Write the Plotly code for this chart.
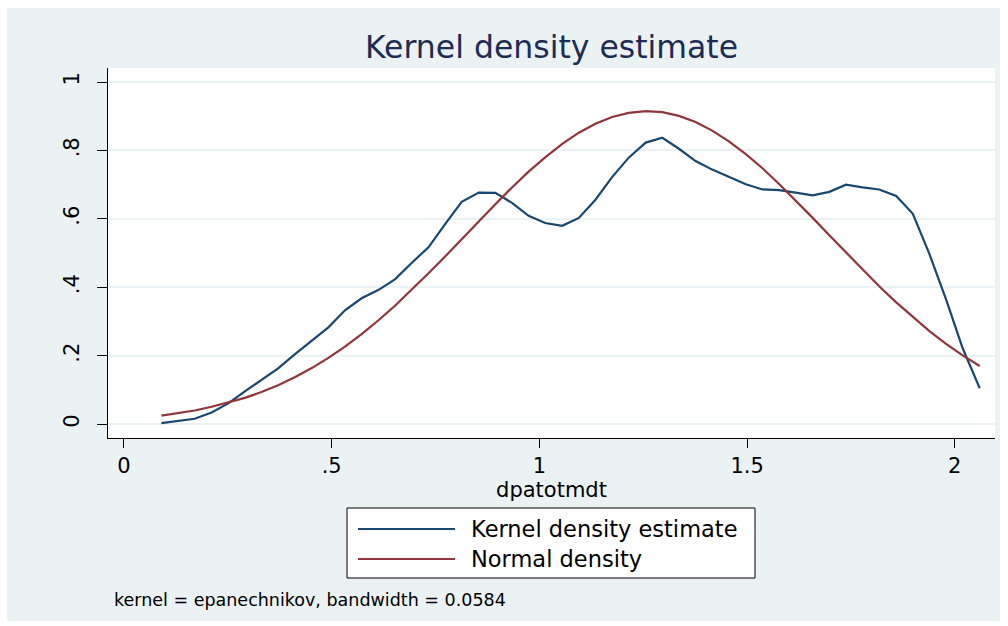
import plotly.graph_objects as go

# Evaluation grid (50 points) for the density of dpatotmdt
grid_x = [0.090, 0.130, 0.170, 0.211, 0.251, 0.291, 0.331, 0.371, 0.411, 0.452,
          0.492, 0.532, 0.572, 0.612, 0.653, 0.693, 0.733, 0.773, 0.813, 0.854,
          0.894, 0.934, 0.974, 1.014, 1.055, 1.095, 1.135, 1.175, 1.215, 1.256,
          1.296, 1.336, 1.376, 1.416, 1.457, 1.497, 1.537, 1.577, 1.617, 1.658,
          1.698, 1.738, 1.778, 1.818, 1.859, 1.899, 1.939, 1.979, 2.019, 2.060]

kernel_density = [0.003, 0.009, 0.016, 0.034, 0.061, 0.096, 0.130, 0.163, 0.204, 0.245,
                  0.283, 0.333, 0.368, 0.392, 0.424, 0.472, 0.517, 0.585, 0.650, 0.677,
                  0.676, 0.647, 0.609, 0.588, 0.580, 0.603, 0.656, 0.722, 0.779, 0.823,
                  0.837, 0.805, 0.769, 0.744, 0.723, 0.701, 0.686, 0.684, 0.677, 0.669,
                  0.679, 0.700, 0.692, 0.686, 0.667, 0.615, 0.497, 0.365, 0.222, 0.105]

normal_density = [0.025, 0.032, 0.040, 0.051, 0.063, 0.077, 0.094, 0.114, 0.137, 0.164,
                  0.194, 0.227, 0.263, 0.303, 0.347, 0.393, 0.441, 0.490, 0.541, 0.593,
                  0.643, 0.692, 0.738, 0.780, 0.819, 0.852, 0.878, 0.898, 0.910, 0.915,
                  0.912, 0.901, 0.883, 0.858, 0.826, 0.789, 0.748, 0.702, 0.654, 0.603,
                  0.552, 0.502, 0.452, 0.403, 0.356, 0.313, 0.272, 0.235, 0.201, 0.170]

x_ticks = [0, 0.5, 1, 1.5, 2]
x_tick_labels = ["0", ".5", "1", "1.5", "2"]
y_ticks = [0, 0.2, 0.4, 0.6, 0.8, 1]
y_tick_labels = ["0", ".2", ".4", ".6", ".8", "1"]

series_names = ["Kernel density estimate", "Normal density"]
series_colors = ["#1A476F", "#90353B"]

W, H = 1008, 626
L, R, T, B = 108, 13, 68, 188
PW, PH = W - L - R, H - T - B
FONT = "DejaVu Sans"
BG = "#EAF2F3"


def px_x(p):
    return (p - L) / PW


def px_y(p):
    return (H - B - p) / PH


fig = go.Figure()
for name, ys, col in zip(series_names, [kernel_density, normal_density], series_colors):
    fig.add_trace(go.Scatter(x=grid_x, y=ys, mode="lines", name=name,
                             line=dict(color=col, width=2.2), showlegend=False))

shapes = [
    # outer graph region
    dict(type="rect", xref="paper", yref="paper", layer="below",
         x0=px_x(7), x1=px_x(1000), y0=px_y(621), y1=px_y(8),
         fillcolor=BG, line=dict(width=0)),
    # plot region
    dict(type="rect", xref="paper", yref="paper", layer="below",
         x0=0, x1=1, y0=0, y1=1, fillcolor="white", line=dict(width=0)),
    # legend box
    dict(type="rect", xref="paper", yref="paper",
         x0=px_x(347), x1=px_x(755), y0=px_y(578), y1=px_y(508),
         fillcolor="white", line=dict(color="#000000", width=1)),
]
annotations = []
for i, (name, col) in enumerate(zip(series_names, series_colors)):
    yy = px_y(529 + 30 * i)
    shapes.append(dict(type="line", xref="paper", yref="paper",
                       x0=px_x(358), x1=px_x(455), y0=yy, y1=yy,
                       line=dict(color=col, width=2.2)))
    annotations.append(dict(text=name, xref="paper", yref="paper",
                            x=px_x(469), y=yy, xanchor="left", yanchor="middle",
                            showarrow=False, font=dict(family=FONT, size=22.5, color="#000000")))

annotations.append(dict(text="kernel = epanechnikov, bandwidth = 0.0584",
                        xref="paper", yref="paper", x=px_x(112), y=px_y(600),
                        xanchor="left", yanchor="middle", showarrow=False,
                        font=dict(family=FONT, size=17.5, color="#000000")))

fig.update_layout(
    width=W, height=H,
    margin=dict(l=L, r=R, t=T, b=B, pad=0),
    paper_bgcolor="white", plot_bgcolor="white",
    title=dict(text="Kernel density estimate", x=0.5, xref="paper",
               y=1 - 47 / H, yref="container", xanchor="center", yanchor="middle",
               font=dict(family=FONT, size=31.5, color="#1E2C55")),
    shapes=shapes, annotations=annotations,
    xaxis=dict(range=[-0.0385, 2.0968], tickvals=x_ticks, ticktext=x_tick_labels,
               showgrid=False, zeroline=False, showline=True, linecolor="#000000",
               linewidth=1.3, ticks="outside", ticklen=9, tickcolor="#000000",
               tickwidth=1, tickfont=dict(family=FONT, size=21, color="#000000"),
               title=dict(text="dpatotmdt", standoff=0,
                          font=dict(family=FONT, size=21, color="#000000"))),
    yaxis=dict(range=[-0.0403, 1.041], tickvals=y_ticks, ticktext=y_tick_labels,
               showgrid=True, gridcolor=BG, gridwidth=1.5, zeroline=False,
               showline=True, linecolor="#000000", linewidth=1.3,
               ticks="outside", ticklen=10, tickcolor="#000000", tickwidth=1,
               ticklabelstandoff=9,
               tickangle=-90, tickfont=dict(family=FONT, size=21, color="#000000")),
)

fig.write_html("out.html")
